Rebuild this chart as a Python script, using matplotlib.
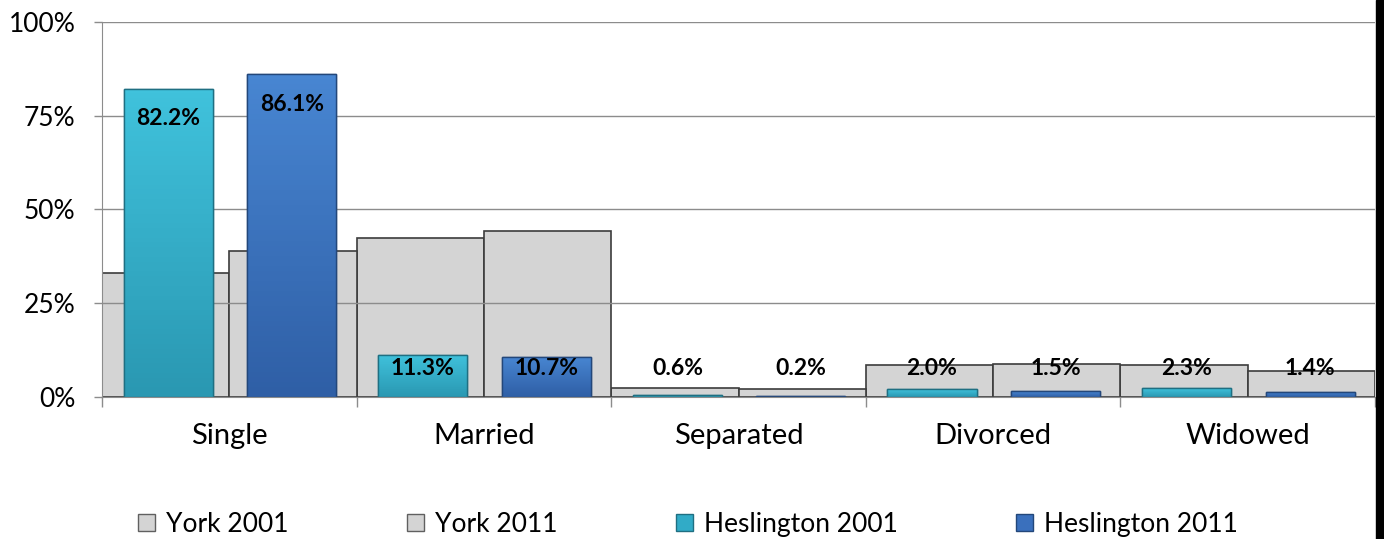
import matplotlib.pyplot as plt
import numpy as np
from matplotlib.patches import Rectangle, Patch
from matplotlib.colors import LinearSegmentedColormap

plt.rcParams['font.family'] = ['Lato', 'DejaVu Sans']

# Data
categories = ['Single', 'Married', 'Separated', 'Divorced', 'Widowed']
york2001 = [33.0, 42.4, 2.4, 8.5, 8.5]
york2011 = [38.9, 44.3, 2.1, 8.8, 6.9]
hes2001 = [82.2, 11.3, 0.6, 2.0, 2.3]
hes2011 = [86.1, 10.7, 0.2, 1.5, 1.4]
yticks = [0, 25, 50, 75, 100]

grey = '#d4d4d4'
cyan = '#31abc7'
blue = '#3a70bd'

fig = plt.figure(figsize=(13.84, 5.39), dpi=100)
ax = fig.add_axes([0.0737, 0.2635, 0.9198, 0.6957])

x = np.arange(len(categories))

# York bars (wide, behind the gridlines)
ax.bar(x - 0.25, york2001, width=0.5, color=grey, edgecolor='#3c3c3c', linewidth=1.2, zorder=1)
ax.bar(x + 0.25, york2011, width=0.5, color=grey, edgecolor='#3c3c3c', linewidth=1.2, zorder=1)

# gridlines
for t in yticks[1:]:
    ax.axhline(t, color='#8c8c8c', linewidth=1, zorder=2)

# Heslington bars (narrow, in front) with a soft vertical gradient
b1 = ax.bar(x - 0.24, hes2001, width=0.35, color=cyan, edgecolor='#1f6f82', linewidth=1, zorder=3)
b2 = ax.bar(x + 0.245, hes2011, width=0.35, color=blue, edgecolor='#23477a', linewidth=1, zorder=3)

grad = np.linspace(1, 0, 64).reshape(-1, 1)
for bars, cols in ((b1, ['#2a98b2', '#40c2dc']), (b2, ['#2f5fa6', '#4886d2'])):
    cm = LinearSegmentedColormap.from_list('g', cols)
    for r in bars:
        x0, w, h = r.get_x(), r.get_width(), r.get_height()
        im = ax.imshow(grad, extent=(x0, x0 + w, 0, h), aspect='auto', cmap=cm,
                       zorder=3.5, origin='upper')
        im.set_clip_path(r)
        ax.add_patch(Rectangle((x0, 0), w, h, fill=False, edgecolor=r.get_edgecolor(),
                               linewidth=1, zorder=3.6))

# value labels
for xs, vals in ((x - 0.24, hes2001), (x + 0.245, hes2011)):
    for xi, v in zip(xs, vals):
        ypos = max(v - 8.0, 7.6)
        ax.text(xi, ypos, f'{v:.1f}%', ha='center', va='center',
                fontsize=16.5, fontweight='bold', color='black', zorder=5)

ax.set_xlim(-0.5, len(categories) - 0.5)
ax.set_ylim(0, 100)

ax.set_yticks(yticks)
ax.set_yticklabels([f'{t}%' for t in yticks], fontsize=19)
ax.tick_params(axis='y', length=6, width=1, color='#8c8c8c', pad=13)

ax.set_xticks(x)
ax.set_xticklabels(categories, fontsize=21)
ax.tick_params(axis='x', length=0, pad=19)
ax.set_xticks(np.arange(len(categories) + 1) - 0.5, minor=True)
ax.tick_params(axis='x', which='minor', length=7, width=1, color='#8c8c8c')

for s in ['top', 'right']:
    ax.spines[s].set_visible(False)
ax.spines['left'].set_color('#8c8c8c')
ax.spines['bottom'].set_color('#8c8c8c')
ax.spines['bottom'].set_zorder(6)

handles = [Patch(facecolor=grey, edgecolor='#606060'),
           Patch(facecolor=grey, edgecolor='#606060'),
           Patch(facecolor=cyan, edgecolor='#1f6f82'),
           Patch(facecolor=blue, edgecolor='#23477a')]
fig.legend(handles, ['York 2001', 'York 2011', 'Heslington 2001', 'Heslington 2011'],
           loc='center', bbox_to_anchor=(0.497, 0.027), ncol=4, frameon=False,
           fontsize=19, handlelength=0.65, handleheight=0.65, handletextpad=0.4,
           columnspacing=4.5)

# black strip at the right edge
fig.patches.append(Rectangle((0.9942, 0), 0.0058, 1, transform=fig.transFigure,
                             color='black', zorder=10))

fig.savefig('out.png', dpi=100)
